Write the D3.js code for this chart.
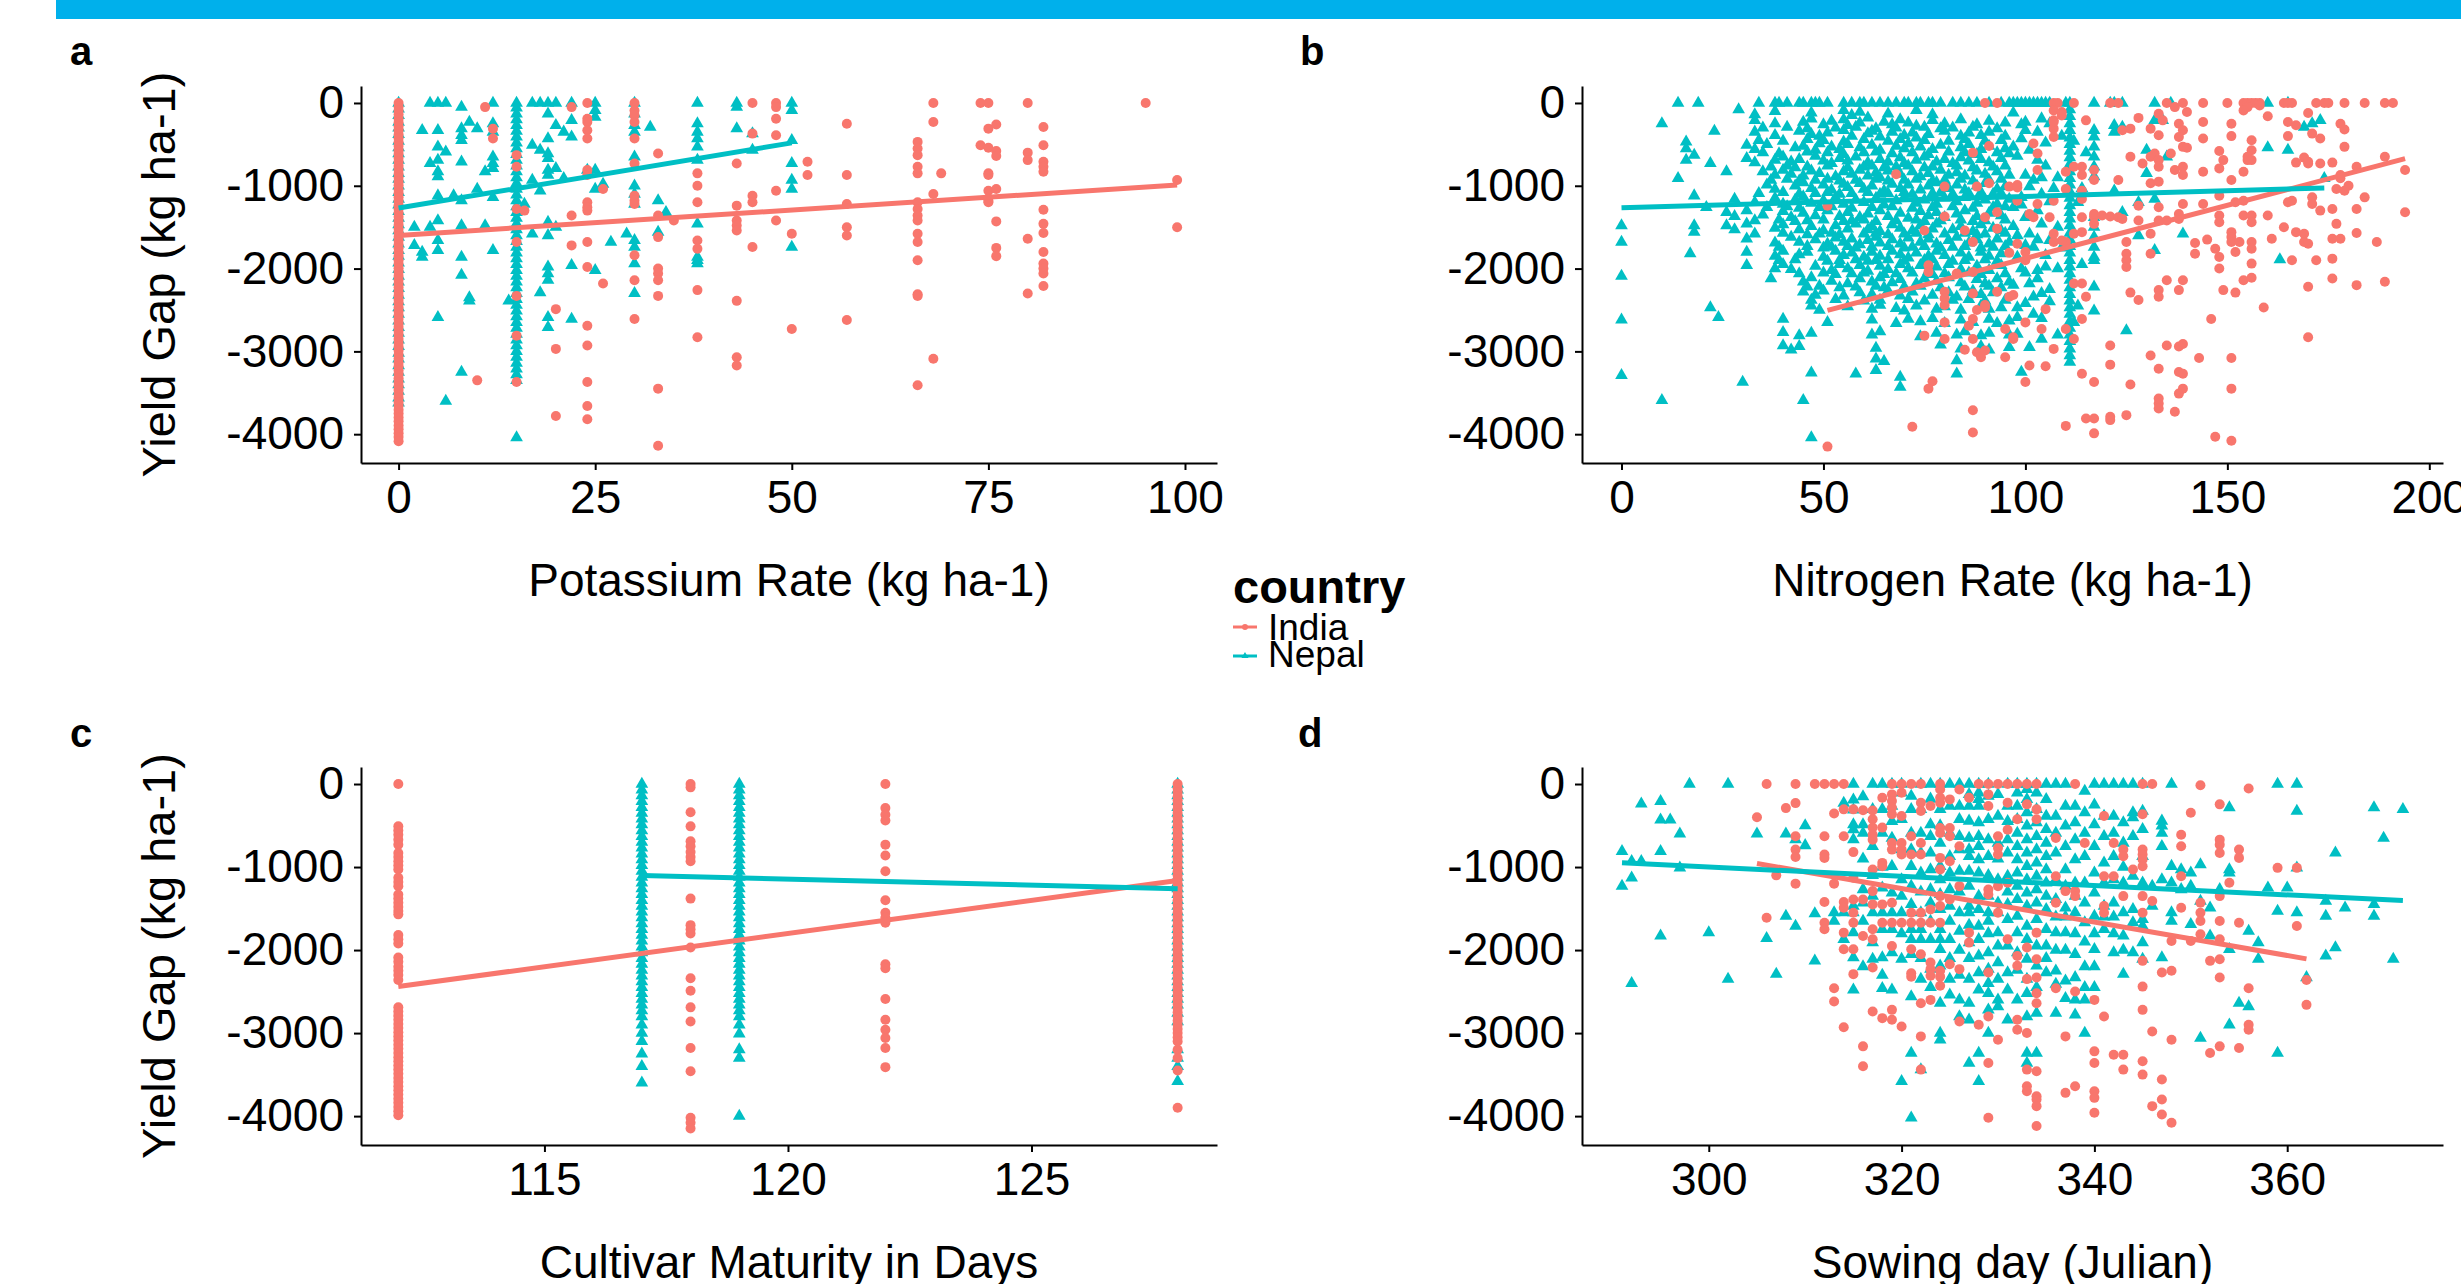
<!DOCTYPE html>
<meta charset="utf-8">
<style>
    body { margin: 0; background: #fff; }
    svg { display: block; background: #fff; }
    .title { font-family: "Liberation Sans", Arial, Helvetica, sans-serif; fill: #000; }
    .tag { font-family: "Liberation Sans", Arial, Helvetica, sans-serif; font-weight: bold; font-size: 40px; }
</style>
<svg width="2461" height="1284"></svg>
<script src="https://d3js.org/d3.v7.min.js"></script>
<script>

    var india = "#F8766D", nepal = "#00BFC4";
    var font = '"Liberation Sans", Arial, Helvetica, sans-serif';

    // ---- values ----

    var yieldTicks = [0, -1000, -2000, -3000, -4000];
    var potassiumTicks = [0, 25, 50, 75, 100];
    var nitrogenTicks = [0, 50, 100, 150, 200];
    var maturityTicks = [115, 120, 125];
    var sowingTicks = [300, 320, 340, 360];

    // a: potassium rate, columns [x, [yield gaps]]
    var potassiumIndia = [
        [0, [0,-45,-95,-140,-190,-235,-285,-330,-380,-425,-475,-520,-570,-615,-665,-710,-760,-805,-855,-900,-950,-995,-1045,-1090,-1140,-1185,-1235,-1280,-1330,-1375,-1425,-1470,-1520,-1565,-1615,-1660,-1710,-1755,-1805,-1850,-1900,-1945,-1995,-2040,-2090,-2135,-2185,-2230,-2280,-2325,-2375,-2420,-2470,-2515,-2565,-2610,-2660,-2705,-2755,-2800,-2850,-2895,-2945,-2990,-3040,-3085,-3135,-3180,-3230,-3275,-3325,-3370,-3420,-3465,-3515,-3560,-3610,-3655,-3705,-3750,-3800,-3845,-3895,-3940,-3990,-4035,-4085]],
        [10, [-3350]], [11, [-50]], [12, [-310,-430]],
        [15, [-630,-770,-1280,-1680,-2330,-2810,-3370]], [16, [-1300]],
        [20, [-2490,-2970,-3780]], [22, [-50,-1360,-1720]],
        [24, [0,-190,-230,-330,-430,-810,-870,-1200,-1260,-1300,-1680,-1980,-2690,-2930,-3370,-3660,-3820]],
        [26, [-1040,-2180]],
        [30, [0,-90,-150,-230,-430,-730,-1120,-1180,-1220,-1840,-2140,-2610]],
        [33, [-610,-1360,-1620,-2000,-2060,-2140,-2330,-3450,-4140]], [35, [-1420]],
        [38, [-850,-1000,-1200,-1660,-1760,-2260,-2830]],
        [43, [-730,-1240,-1420,-1480,-1540,-2390,-3070,-3170]],
        [45, [0,-370,-1120,-1200,-1740]], [48, [0,-50,-190,-390,-1060,-1420]],
        [50, [-1580,-2730]], [52, [-710,-870]],
        [57, [-250,-870,-1220,-1500,-1600,-2620]],
        [66, [-470,-550,-630,-770,-850,-1200,-1280,-1360,-1420,-1580,-1680,-1900,-2310,-2330,-3410]],
        [68, [0,-230,-1100,-3090]], [69, [-850]], [74, [0,-510]],
        [75, [0,-310,-540,-850,-870,-1060,-1180,-1200]],
        [76, [-260,-580,-640,-1040,-1430,-1750,-1850]],
        [80, [0,-600,-690,-1640,-2300]],
        [82, [-290,-510,-710,-770,-830,-1290,-1460,-1570,-1800,-1940,-2000,-2060,-2210]],
        [95, [0]], [99, [-930,-1500]]
    ];
    var potassiumNepal = [
        [0, [0,-70,-150,-230,-300,-380,-460,-540,-610,-690,-770,-850,-920,-1000,-1080,-1160,-1230,-1310,-1390,-1470,-1540,-1620,-1700,-1780,-1850,-1930,-2010,-2090,-2160,-2240,-2320,-2400,-2470,-2550,-2630,-2710,-2780,-2860,-2940,-3020,-3090,-3170,-3250,-3330,-3400,-3480,-3560,-3620]],
        [2, [-1500,-1720]], [3, [-330,-1800,-1860]], [4, [0,-730,-1500]],
        [5, [0,-330,-530,-690,-830,-890,-1120,-1420,-1660,-1780,-2590]],
        [6, [0,-590,-3600]], [7, [-1120]],
        [8, [-50,-310,-390,-450,-710,-1180,-1480,-1860,-2080,-3250]],
        [9, [-230,-2350,-2390]], [10, [-310,-1040]], [11, [-830,-1480]],
        [12, [0,-250,-350,-650,-730,-790,-1140,-1780]], [14, [-2390]],
        [15, [0,-60,-130,-200,-270,-340,-410,-480,-550,-620,-690,-760,-830,-900,-970,-1040,-1110,-1180,-1250,-1320,-1390,-1460,-1530,-1600,-1670,-1740,-1810,-1880,-1950,-2020,-2090,-2160,-2230,-2300,-2370,-2440,-2510,-2580,-2650,-2720,-2790,-2860,-2930,-3000,-3070,-3140,-3210,-3280,-3350,-4040]],
        [16, [-1220]], [17, [0,-510,-930,-1580]], [18, [0,-570,-1060,-2290]],
        [19, [0,-130,-430,-610,-670,-810,-870,-1440,-1600,-1980,-2060,-2140,-2590,-2710]],
        [20, [0,-270,-790,-1500]], [21, [-350,-910]], [22, [0,-210,-410,-1960,-2610]],
        [24, [-810]], [25, [0,-90,-170,-810,-1040,-2020]], [26, [-980]], [27, [-1680]], [29, [-1580]],
        [30, [0,-130,-270,-350,-650,-1000,-1100,-1220,-1660,-1740,-1940,-2300]],
        [32, [-290]], [33, [-1180,-1560]], [34, [-1320]],
        [38, [0,-250,-350,-430,-530,-690,-1460,-1860,-1900,-1940]],
        [43, [0,-50,-310]], [45, [-370,-570]],
        [50, [0,-90,-450,-730,-930,-1040,-1740]]
    ];
    var potassiumFitIndia = [[0, -1600], [99, -990]];
    var potassiumFitNepal = [[0, -1269], [50, -482]];

    // b: nitrogen rate, points [x, yield gap]
    var nitrogenIndia = [
        [90,0],[93,0],[91,-520],[87,-600],[68,-860],[80,-1010],[88,-1010],[91,-970],[96,-1010],[51,-1240],
        [80,-1370],[90,-1380],[93,-1320],[75,-1540],[85,-1540],[93,-1520],[87,-1680],[96,-1810],[76,-1960],[76,-2040],
        [83,-2060],[87,-2040],[80,-2280],[80,-2360],[80,-2440],[87,-2300],[90,-2440],[90,-2470],[93,-2280],[96,-2340],
        [88,-2500],[87,-2610],[86,-2690],[80,-2650],[75,-2810],[80,-2850],[87,-2850],[85,-2980],[88,-3010],[89,-3070],
        [90,-2990],[95,-3070],[97,-2850],[95,-2730],[77,-3360],[76,-3450],[87,-3710],[87,-3980],[72,-3910],[51,-4150],
        [107,0],[108,0],[112,0],[121,0],[123,0],[135,0],[139,0],[144,0],[150,0],[154,0],[155,0],[156,0],[157,0],[158,0],
        [164,0],[165,0],[166,0],[172,0],[174,0],[175,0],[179,0],[184,0],[189,0],[191,0],
        [107,-90],[109,-110],[115,-210],[107,-210],[107,-310],[107,-410],[128,-180],[124,-330],[126,-310],[133,-130],
        [134,-210],[138,-250],[139,-330],[138,-410],[139,-530],[131,-310],[133,-390],[144,-230],[144,-430],[151,-250],
        [151,-400],[156,-450],[156,-570],[155,-690],[154,-830],[160,-160],[165,-230],[167,-270],[165,-400],[170,-120],
        [171,-370],[173,-430],[178,-250],[179,-320],[179,-530],[176,-720],[170,-730],[167,-720],[140,-540],[136,-610],
        [148,-580],[149,-690],[148,-790],[151,-930],[144,-830],[131,-650],[132,-610],[133,-690],[133,-770],[129,-730],
        [126,-650],[139,-770],[139,-870],[137,-810],[131,-970],[133,-950],[123,-930],[114,-770],[114,-870],[112,-770],
        [110,-830],[117,-810],[117,-930],[98,-990],[103,-810],[98,-1180],[107,-1180],[110,-1040],[114,-1060],[103,-1220],
        [114,-1160],[133,-1260],[139,-1220],[144,-1220],[148,-1120],[152,-1200],[154,-1180],[165,-1200],[166,-1180],[171,-1140],
        [171,-1220],[173,-1300],[177,-1040],[180,-1000],[179,-1060],[184,-1140],[182,-1280],[176,-1280],[177,-1460],[182,-1570],
        [189,-650],[194,-810],[194,-1320],[178,-870],[178,-910],[182,-770],[176,-1640],[178,-1640],[187,-1680],[182,-2200],
        [189,-2160],[176,-1880],[176,-2120],[172,-1900],[170,-2220],[170,-2830],[166,-1900],[161,-1640],[164,-1500],[167,-1560],
        [169,-1580],[169,-1680],[170,-1700],[160,-1360],[154,-1360],[156,-1360],[156,-1440],[148,-1360],[148,-1440],[151,-1560],
        [151,-1620],[151,-1680],[153,-1680],[152,-1800],[156,-1680],[156,-1760],[156,-1940],[147,-1760],[148,-1860],[148,-2000],
        [142,-1690],[142,-1820],[145,-1650],[154,-2140],[156,-2110],[149,-2260],[152,-2290],[159,-2470],[146,-2610],[138,-1400],
        [138,-1340],[128,-1420],[133,-1420],[135,-1420],[131,-1580],[131,-1820],[125,-1680],[125,-1820],[125,-1900],[125,-1980],
        [135,-2140],[139,-2140],[138,-2260],[133,-2260],[133,-2340],[126,-2290],[128,-2380],[121,-1370],[123,-1380],[117,-1370],
        [117,-1460],[114,-1380],[112,-1580],[114,-1560],[110,-1680],[109,-1660],[112,-2180],[114,-2180],[115,-2340],[114,-2610],
        [110,-2730],[112,-2850],[107,-2970],[105,-2490],[104,-2730],[100,-2650],[97,-2830],[101,-3170],[105,-3180],[100,-3370],
        [121,-2930],[121,-3160],[131,-3050],[135,-2930],[138,-2940],[139,-2910],[143,-3080],[151,-3080],[151,-3450],[133,-3210],
        [138,-3250],[139,-3270],[114,-3270],[117,-3370],[126,-3400],[138,-3510],[139,-3450],[133,-3570],[133,-3630],[133,-3690],
        [137,-3730],[115,-3810],[117,-3810],[121,-3790],[121,-3830],[125,-3770],[110,-3900],[117,-3990],[147,-4030],[151,-4080],
        [100,-1900],[97,-2320],[103,-610],[102,-490],[107,-230],[109,-150],[117,-1340],[119,-1360],[124,-1400],[128,-1240],
        [155,-650],[156,-690],[158,-30],[155,-50],[154,-90],[140,-110],[137,-50],[169,-660],[170,-710],[173,-730],
        [98,-1020],[101,-1340],[102,-1380],[100,-1800],[98,-1700],[106,-1380],[107,-1580],[107,-1680]
    ];
    var nitrogenNepal = [
        [14,0],[19,0],[34,0],[38,0],[39,0],[41,0],[44,0],[45,0],[47,0],[48,0],[49,0],[51,0],[55,0],[57,0],[59,0],[60,0],
        [62,0],[64,0],[66,0],[68,0],[70,0],[71,0],[73,0],[74,0],[76,0],[77,0],[79,0],[82,0],[84,0],[86,0],[88,0],[91,0],
        [94,0],[96,0],[97,0],[98,0],[99,0],[100,0],[101,0],[102,0],[103,0],[104,0],[105,0],[106,0],[110,0],[117,0],
        [121,0],[122,0],[124,0],[132,0],[136,0],[160,0],[165,0],
        [29,-80],[33,-140],[38,-100],[47,-120],[55,-90],[57,-150],[59,-110],[66,-130],[73,-90],[77,-140],
        [33,-210],[38,-250],[45,-230],[47,-190],[50,-260],[52,-220],[55,-200],[56,-270],[59,-240],[61,-180],[65,-230],
        [67,-260],[69,-200],[71,-240],[73,-280],[77,-210],[80,-250],[84,-200],[88,-260],[91,-220],[95,-240],
        [35,-300],[41,-290],[46,-310],[53,-300],[58,-290],[63,-310],[68,-300],[75,-290],[79,-310],[82,-300],[87,-290],[93,-310],
        [33,-350],[38,-390],[44,-340],[47,-380],[49,-400],[51,-360],[55,-330],[57,-400],[61,-370],[62,-340],[64,-410],
        [67,-350],[70,-390],[72,-360],[73,-420],[76,-380],[80,-340],[84,-400],[86,-360],[89,-390],[91,-350],[95,-400],
        [34,-450],[40,-460],[46,-440],[50,-450],[55,-470],[60,-440],[66,-460],[69,-440],[75,-450],[81,-460],[85,-440],[90,-460],[94,-450],
        [31,-510],[33,-560],[36,-500],[43,-540],[45,-520],[48,-570],[49,-490],[52,-530],[54,-560],[56,-500],[59,-540],
        [62,-510],[64,-570],[68,-520],[70,-550],[71,-490],[74,-530],[77,-560],[79,-510],[84,-540],[86,-500],[89,-560],[91,-520],[95,-550],
        [35,-600],[39,-610],[46,-590],[51,-600],[55,-620],[60,-600],[63,-590],[67,-610],[72,-600],[76,-620],[81,-590],[85,-600],[88,-620],[93,-600],[96,-610],
        [31,-670],[33,-720],[38,-690],[40,-650],[42,-710],[44,-680],[48,-640],[50,-700],[52,-730],[54,-670],[56,-700],
        [58,-650],[61,-720],[64,-680],[66,-710],[69,-660],[70,-730],[73,-690],[75,-650],[78,-710],[80,-680],[82,-730],
        [84,-660],[86,-700],[89,-680],[91,-720],[94,-670],
        [37,-770],[41,-760],[43,-780],[46,-770],[51,-760],[56,-780],[60,-770],[62,-760],[65,-780],[68,-770],[71,-760],[75,-780],[77,-770],[83,-760],[87,-780],[92,-770],[95,-760],
        [35,-830],[38,-870],[40,-810],[42,-860],[45,-880],[47,-820],[49,-850],[53,-890],[55,-830],[57,-860],[59,-810],
        [61,-880],[63,-840],[64,-900],[66,-820],[69,-860],[72,-830],[74,-890],[76,-850],[79,-810],[81,-870],[83,-840],
        [85,-880],[88,-820],[90,-860],[93,-830],[96,-870],
        [37,-930],[41,-920],[44,-940],[48,-930],[51,-920],[54,-940],[58,-930],[63,-920],[66,-940],[70,-930],[73,-920],[77,-940],[80,-930],[84,-920],[87,-940],[91,-930],[94,-920],
        [36,-990],[38,-1040],[43,-1000],[45,-960],[47,-1030],[50,-990],[52,-1050],[55,-980],[56,-1020],[59,-970],[60,-1040],
        [62,-1000],[65,-1060],[67,-980],[69,-1030],[71,-990],[74,-1050],[76,-1000],[78,-960],[81,-1030],[83,-990],[85,-1050],
        [88,-1000],[90,-970],[93,-1040],[95,-1010],
        [34,-1090],[40,-1080],[44,-1100],[48,-1090],[51,-1080],[54,-1100],[57,-1090],[61,-1080],[64,-1100],[66,-1090],[70,-1080],[72,-1100],[77,-1090],[79,-1080],[82,-1100],[86,-1090],[89,-1080],[92,-1100],[94,-1090],
        [28,-1160],[33,-1200],[38,-1150],[40,-1220],[43,-1170],[45,-1130],[47,-1210],[50,-1180],[53,-1140],[55,-1220],[58,-1170],
        [60,-1200],[63,-1150],[65,-1230],[68,-1180],[70,-1140],[73,-1210],[75,-1170],[78,-1220],[80,-1150],[83,-1190],[85,-1140],
        [88,-1210],[90,-1170],[93,-1220],[96,-1160],
        [36,-1260],[41,-1250],[44,-1270],[49,-1260],[52,-1250],[57,-1270],[62,-1260],[67,-1250],[72,-1270],[77,-1260],[82,-1250],[87,-1270],[92,-1260],[95,-1250],
        [26,-1320],[28,-1370],[31,-1300],[35,-1350],[40,-1310],[42,-1380],[45,-1330],[48,-1360],[51,-1300],[54,-1370],[56,-1320],
        [59,-1380],[61,-1340],[64,-1300],[66,-1370],[69,-1330],[71,-1390],[74,-1310],[76,-1360],[78,-1320],[80,-1380],[83,-1340],
        [85,-1300],[88,-1370],[91,-1330],[94,-1360],
        [33,-1420],[39,-1410],[43,-1430],[46,-1420],[50,-1410],[55,-1430],[57,-1420],[60,-1410],[63,-1430],[68,-1420],[73,-1410],[75,-1430],[79,-1420],[84,-1410],[87,-1430],[90,-1420],[95,-1410],
        [26,-1480],[28,-1530],[31,-1460],[38,-1510],[40,-1470],[44,-1530],[47,-1490],[50,-1540],[53,-1480],[56,-1520],[58,-1460],
        [61,-1530],[62,-1490],[64,-1550],[67,-1470],[69,-1510],[72,-1540],[74,-1480],[77,-1520],[78,-1460],[82,-1530],[84,-1490],
        [87,-1550],[89,-1470],[92,-1510],[94,-1540],
        [33,-1580],[40,-1570],[46,-1590],[49,-1580],[52,-1570],[54,-1590],[60,-1580],[63,-1570],[66,-1590],[70,-1580],[73,-1570],[76,-1590],[80,-1580],[85,-1570],[88,-1590],[90,-1580],[95,-1570],
        [31,-1640],[38,-1690],[42,-1620],[44,-1680],[48,-1650],[51,-1700],[53,-1630],[55,-1680],[57,-1640],[59,-1710],[61,-1660],
        [63,-1620],[64,-1690],[67,-1650],[69,-1700],[71,-1630],[74,-1680],[76,-1640],[78,-1700],[81,-1660],[83,-1620],[86,-1690],
        [88,-1650],[91,-1700],[93,-1640],[96,-1680],
        [39,-1740],[46,-1730],[50,-1750],[52,-1740],[56,-1730],[58,-1750],[62,-1740],[66,-1730],[70,-1750],[72,-1740],[75,-1730],[79,-1750],[82,-1740],[85,-1730],[89,-1750],[92,-1740],[95,-1730],
        [31,-1800],[38,-1850],[40,-1790],[44,-1830],[46,-1800],[50,-1860],[53,-1790],[55,-1840],[57,-1810],[60,-1860],[62,-1800],
        [64,-1850],[67,-1790],[69,-1830],[71,-1870],[73,-1810],[76,-1850],[78,-1790],[80,-1840],[84,-1810],[86,-1860],[89,-1800],
        [91,-1850],[94,-1820],
        [39,-1900],[43,-1890],[51,-1910],[54,-1900],[58,-1890],[61,-1910],[63,-1900],[66,-1890],[70,-1910],[75,-1900],[77,-1890],[82,-1910],[85,-1900],[90,-1890],[93,-1910],
        [31,-1960],[38,-2000],[40,-1950],[42,-2010],[48,-1970],[52,-2020],[54,-1950],[56,-2000],[59,-1960],[61,-2030],[64,-1970],
        [66,-2010],[69,-1950],[71,-2000],[74,-1960],[76,-2030],[78,-1980],[81,-1950],[84,-2010],[88,-1970],[91,-2020],[94,-1960],
        [44,-2060],[50,-2050],[53,-2070],[57,-2060],[60,-2050],[65,-2070],[68,-2060],[72,-2050],[77,-2070],[80,-2060],[86,-2050],[89,-2070],[95,-2060],
        [37,-2120],[45,-2160],[47,-2110],[52,-2150],[56,-2180],[59,-2120],[62,-2160],[64,-2110],[67,-2170],[69,-2130],[73,-2180],
        [75,-2120],[78,-2150],[81,-2110],[84,-2170],[88,-2130],[90,-2180],[93,-2120],[96,-2160],
        [46,-2220],[49,-2210],[54,-2230],[58,-2220],[63,-2210],[65,-2230],[70,-2220],[74,-2210],[79,-2230],[85,-2220],[91,-2210],[94,-2230],
        [45,-2280],[48,-2320],[50,-2270],[55,-2330],[59,-2290],[62,-2310],[66,-2270],[69,-2330],[72,-2280],[77,-2320],[81,-2290],
        [83,-2340],[87,-2270],[89,-2310],[92,-2290],
        [47,-2380],[53,-2370],[60,-2390],[64,-2380],[71,-2370],[75,-2390],[82,-2380],[86,-2370],[90,-2390],[95,-2380],
        [47,-2450],[49,-2500],[56,-2460],[62,-2490],[64,-2440],[68,-2480],[70,-2510],[73,-2450],[78,-2490],[80,-2460],[84,-2500],
        [89,-2450],[91,-2490],[94,-2470],
        [40,-2610],[51,-2650],[62,-2620],[68,-2660],[71,-2610],[74,-2640],[77,-2600],[80,-2660],[84,-2620],[87,-2650],[91,-2610],
        [93,-2660],[96,-2630],
        [40,-2770],[44,-2810],[47,-2780],[62,-2800],[64,-2760],[74,-2820],[78,-2780],[83,-2800],[85,-2760],[89,-2810],[91,-2780],[96,-2800],
        [40,-2930],[42,-2980],[44,-2940],[63,-2960],[79,-2920],[84,-2970],[89,-2940],[91,-2980],
        [63,-3090],[65,-3120],[83,-3110],[47,-3260],[58,-3270],[63,-3230],[69,-3310],[83,-3270],[30,-3370],[69,-3430],
        [10,-3590],[45,-3590],[47,-4040],
        [0,-1480],[0,-1680],[0,-2090],[0,-2620],[0,-3290],[10,-250],[14,-910],[16,-470],[16,-550],[16,-690],[17,-1820],
        [18,-630],[18,-1120],[18,-1480],[18,-1560],[21,-1260],[23,-340],[22,-730],[22,-2470],[24,-2590],[26,-830],
        [100,-230],[100,-330],[104,-190],[106,-250],[101,-570],[103,-690],[100,-870],[101,-1010],[97,-1260],[100,-1380],
        [104,-1460],[101,-1580],[106,-1660],[98,-1860],[103,-2020],[101,-2180],[104,-2300],[102,-2340],[98,-2470],[102,-2550],
        [98,-2590],[99,-3250],[97,-530],[99,-1140],[102,-1740],[98,-2790],[102,-930],[105,-1980],[99,-430],[105,-760],
        [97,-1490],[104,-1100],[100,-2050],[106,-2400],
        [97,-120],[99,-260],[103,-350],[105,-480],[98,-640],[104,-900],[107,-1030],[99,-1230],[103,-1300],[106,-1190],
        [98,-1600],[103,-1650],[100,-1720],[105,-1840],[99,-2000],[103,-2120],[97,-2200],[106,-2250],[100,-2420],[104,-2600],
        [108,-1500],[108,-900],[108,-2000],[113,-1200],[114,-1950],[113,-2450],[115,-600],[109,-400],[112,-460],[114,-1030],
        [109,-1750],[112,-2650],[108,-2800],[104,-2850],[101,-2950],[96,-2950],
        [117,-330],[117,-410],[117,-530],[117,-650],[117,-770],[117,-890],[117,-1380],[117,-1500],[117,-1620],[117,-1740],
        [117,-1860],[117,-1900],[117,-2220],[117,-2510],[122,-270],[122,-350],[124,-290],[122,-1060],[124,-1320],[125,-2750],
        [128,-1200],[128,-1600],[130,-570],[130,-850],[132,-210],[134,-210],[135,-650],[132,-1160],[139,-1580],[132,-1780],
        [160,-540],[163,-1890],[165,-570],[169,-290],[171,-250],[173,-210],[174,-910]
    ];
    // the solid column of Nepal farms at 111 kg N
    var nitrogenNepal111 = [0,-80,-160,-250,-330,-420,-500,-580,-660,-740,-830,-910,-990,-1070,-1150,-1240,-1320,-1400,-1480,-1570,-1650,-1730,-1810,-1900,-1980,-2060,-2140,-2230,-2310,-2390,-2470,-2550,-2640,-2720,-2800,-2880,-2970,-3050,-3130];
    var nitrogenFitIndia = [[51, -2505], [194, -673]];
    var nitrogenFitNepal = [[0, -1265], [174, -1027]];

    // c: cultivar maturity, columns [days, [yield gaps]]
    var maturityIndia = [
        [112, [0,-510,-560,-610,-670,-730,-830,-880,-930,-980,-1030,-1130,-1180,-1230,-1330,-1380,-1430,-1480,-1530,-1570,-1820,-1870,-1920,-2090,-2140,-2200,-2250,-2300,-2360,-2690,-2740,-2790,-2840,-2890,-2940,-2990,-3040,-3090,-3140,-3190,-3240,-3290,-3340,-3390,-3440,-3490,-3540,-3590,-3640,-3690,-3740,-3790,-3840,-3890,-3940,-3990]],
        [118, [0,-40,-340,-510,-690,-750,-820,-880,-930,-1380,-1700,-1750,-1800,-1970,-2340,-2490,-2690,-2860,-3180,-3460,-4020,-4080,-4150]],
        [122, [0,-290,-370,-440,-730,-860,-1050,-1400,-1550,-1610,-1670,-2170,-2220,-2590,-2840,-2960,-3060,-3180,-3410]],
        [128, [0,-50,-100,-150,-200,-250,-300,-350,-400,-450,-500,-550,-600,-650,-700,-750,-800,-850,-900,-950,-1000,-1050,-1100,-1150,-1200,-1250,-1300,-1350,-1400,-1450,-1500,-1550,-1600,-1650,-1700,-1750,-1800,-1850,-1900,-1950,-2000,-2050,-2100,-2150,-2200,-2250,-2300,-2350,-2400,-2450,-2500,-2550,-2600,-2650,-2700,-2750,-2800,-2850,-2900,-2950,-3000,-3050,-3100,-3200,-3300,-3450,-3900]]
    ];
    var maturityNepal = [
        [117, [0,-70,-140,-210,-280,-350,-420,-490,-560,-630,-700,-770,-840,-910,-980,-1050,-1120,-1190,-1260,-1330,-1400,-1470,-1540,-1610,-1680,-1750,-1820,-1890,-1960,-2030,-2100,-2170,-2240,-2310,-2380,-2450,-2520,-2590,-2660,-2730,-2800,-2900,-3000,-3100,-3250,-3400,-3600]],
        [119, [0,-70,-140,-210,-280,-350,-420,-490,-560,-630,-700,-770,-840,-910,-980,-1050,-1120,-1190,-1260,-1330,-1400,-1470,-1540,-1610,-1680,-1750,-1820,-1890,-1960,-2030,-2100,-2170,-2240,-2310,-2380,-2450,-2520,-2590,-2660,-2730,-2800,-2900,-3010,-3200,-3300,-4000]],
        [128, [0,-70,-140,-210,-280,-350,-420,-490,-560,-630,-700,-770,-840,-910,-980,-1050,-1120,-1190,-1260,-1330,-1400,-1470,-1540,-1610,-1680,-1750,-1820,-1890,-1960,-2030,-2100,-2170,-2240,-2310,-2380,-2450,-2520,-2590,-2660,-2760,-2860,-3200,-3300,-3400,-3580]]
    ];
    var maturityFitIndia = [[112, -2440], [128, -1162]];
    var maturityFitNepal = [[117, -1103], [128, -1262]];

    // d: sowing day, columns [julian day, [yield gaps]]
    var sowingIndia = [
        [305, [-400]], [306, [0,-1610]], [307, [-1100]], [308, [-290]],
        [309, [0,-230,-630,-790,-880,-1200]], [311, [0]],
        [312, [0,-630,-850,-890,-1420,-1670,-1750]], [313, [0,-355,-1200,-2460,-2620]],
        [314, [0,-305,-630,-1420,-1490,-1790,-1990,-2930]],
        [315, [-305,-820,-1130,-1390,-1550,-1670,-1990,-2290]],
        [316, [-315,-1390,-1830,-3160,-3400]],
        [317, [-320,-425,-525,-610,-670,-1030,-1290,-1450,-1750,-1870,-2210,-2740]],
        [318, [-165,-525,-950,-990,-1450,-1670,-2820]],
        [319, [0,-125,-205,-285,-365,-710,-790,-1430,-1670,-1950,-2720,-2840]],
        [320, [0,-105,-385,-710,-790,-850,-1670,-2920]],
        [321, [0,-630,-850,-1550,-1670,-1990,-2280,-2320]],
        [322, [0,-225,-325,-710,-850,-1550,-1670,-2050,-2640,-3040,-3440]],
        [323, [-265,-1510,-1670,-2150,-2230,-2310,-2600]],
        [324, [0,-65,-165,-225,-530,-590,-890,-1030,-1350,-1470,-1670,-2250,-2320,-2430]],
        [325, [-185,-530,-630,-930,-1390,-2170]], [326, [-65,-750,-1230,-2230,-2860]],
        [327, [-165,-1790,-1910]], [328, [0,-2900]],
        [329, [0,-125,-265,-1270,-1330,-2270,-2800,-3360,-4020]],
        [330, [0,-630,-770,-850,-1230,-1550,-3080]], [331, [0,-225,-550,-1190,-1870]],
        [332, [0,-425,-2070,-2190,-2840,-2960]],
        [333, [0,-245,-1970,-2350,-3000,-3440,-3640,-3700]],
        [334, [0,-305,-425,-1790,-2110,-2330,-2520,-2640,-3460,-3760,-3800,-3880,-4120]],
        [336, [-650,-1110,-1430,-2460]], [337, [-1290,-3040,-3720]],
        [338, [0,-1290,-1350,-2500,-3640]], [339, [-710]],
        [340, [-2600,-3220,-3360,-3700,-3780,-3960]],
        [341, [-385,-1110,-1470,-1550,-2800]], [342, [-710,-1110,-3260]],
        [343, [-790,-870,-1350,-3260,-3440]], [344, [-1030]],
        [345, [0,-365,-790,-850,-910,-990,-1350,-1550,-2130,-2440,-2720,-3340,-3500]],
        [346, [0,-1410,-2980,-3880]], [347, [-2270,-3560,-3800,-3980]],
        [348, [-1890,-2250,-3080,-4080]], [349, [-610,-750,-1110,-1490]],
        [350, [-345,-1890]], [351, [-15,-1430,-1550,-1650,-1810]], [352, [-2130,-3240]],
        [353, [-245,-670,-730,-830,-1350,-1650,-1870,-2110,-2330,-3160]], [354, [-1190]],
        [355, [-790,-890,-1670,-3180]], [356, [-55,-2460,-2900,-2960]],
        [359, [-1010]], [361, [-1010,-1710]], [362, [-2360,-2660]]
    ];
    var sowingNepal = [
        [291, [-810,-1230]], [292, [-930,-1130,-2400]], [293, [-240,-930]],
        [295, [-210,-430,-810,-1830]], [296, [-430]], [297, [-600,-1010]], [298, [0]],
        [300, [-1790]], [302, [0,-2350]], [305, [-600]], [306, [-1860]], [307, [-2290]],
        [308, [-600,-1590]], [309, [-670,-1710]], [310, [-500,-740]], [311, [-1560,-2130]],
        [313, [-1550,-1650]], [314, [-230,-1550,-1870]],
        [315, [0,-190,-310,-490,-550,-670,-1470,-1550,-1790,-2090,-2480]],
        [316, [-150,-490,-590,-900,-1270,-1430,-1650,-2200]],
        [317, [0,-305,-750,-1100,-1350,-1550,-1910,-2110]],
        [318, [0,-305,-590,-1000,-1250,-1550,-1750,-2090,-2300,-2460]],
        [319, [0,-265,-450,-650,-990,-1310,-1550,-1750,-2030,-2480]],
        [320, [0,-105,-425,-790,-1150,-1350,-1550,-1800,-2110,-3580]],
        [321, [-145,-305,-590,-790,-990,-1230,-1450,-1750,-1870,-2050,-2560,-3240,-4020]],
        [322, [0,-305,-590,-830,-1070,-1300,-1550,-1750,-1870,-2100,-2350,-3440]],
        [323, [0,-180,-490,-630,-830,-1030,-1270,-1430,-1650,-1870,-2230,-2450]],
        [324, [0,-305,-500,-710,-990,-1150,-1330,-1510,-1750,-1870,-1990,-2190,-2640,-3000,-3080]],
        [325, [0,-265,-590,-870,-1070,-1270,-1470,-1650,-1870,-2100,-2350,-2540]],
        [326, [0,-265,-425,-630,-790,-1050,-1300,-1550,-1770,-2000,-2300,-2600,-2800]],
        [327, [0,-125,-265,-445,-650,-790,-870,-1050,-1230,-1470,-1550,-1700,-1910,-2100,-2350,-2640,-2840,-3360]],
        [328, [0,-105,-185,-265,-465,-630,-750,-910,-1070,-1350,-1510,-1710,-1870,-2070,-2270,-2480,-3240,-3580]],
        [329, [0,-145,-425,-670,-870,-1100,-1350,-1550,-1650,-1800,-2030,-2230,-2400,-2520,-2720,-3000]],
        [330, [-125,-385,-710,-900,-1150,-1430,-1550,-1790,-1950,-2150,-2350,-2600,-2680]],
        [331, [0,-265,-450,-670,-830,-1110,-1300,-1450,-1630,-1950,-2270,-2480,-2840]],
        [332, [0,-105,-265,-425,-590,-750,-910,-1070,-1230,-1390,-1590,-1790,-2030,-2240,-2600]],
        [333, [0,-65,-185,-345,-505,-670,-830,-990,-1150,-1310,-1470,-1710,-1870,-2110,-2350,-2520,-2800,-3240,-3360]],
        [334, [0,-105,-305,-465,-630,-790,-950,-1110,-1270,-1430,-1630,-1950,-2190,-2450,-2760,-3240]],
        [335, [0,-185,-385,-545,-710,-870,-1030,-1190,-1350,-1510,-1750,-1950,-2100,-2270]],
        [336, [0,-385,-590,-830,-1150,-1390,-1600,-1790,-2000,-2250,-2410,-2760]],
        [337, [0,-265,-505,-750,-1030,-1230,-1490,-1600,-1790,-2000,-2370,-2580]],
        [338, [-265,-465,-670,-910,-1190,-1350,-1550,-1800,-2050,-2330,-2600,-2780]],
        [339, [-85,-345,-590,-870,-1190,-1430,-1670,-1900,-2200,-2450,-2600,-3000]],
        [340, [0,-250,-490,-750,-1070,-1310,-1590,-1800,-1990,-2200,-2450]],
        [341, [0,-385,-630,-950,-1190,-1470,-1600,-1750]],
        [342, [0,-385,-590,-870,-1150,-1430,-1600,-1800,-2030]],
        [343, [0,-465,-710,-1000,-1190,-1550,-1830,-2000,-2290]],
        [344, [0,-345,-405,-630,-1110,-1510,-1670,-2030]],
        [345, [0,-325,-545,-870,-1190,-1630,-1710,-1910,-2110]],
        [346, [-1230,-1470]], [347, [-445,-505,-590,-750,-1150,-2090]],
        [348, [0,-990,-1190,-1550,-1650]], [349, [-1030,-1270]], [350, [-1070,-1230,-1690]],
        [351, [-970,-1410,-3060]], [352, [-1490,-1830]], [353, [-1270]],
        [354, [-285,-1030,-1070,-1990,-2900]], [355, [-2640]], [356, [-1770,-2680]],
        [357, [-1910,-2110]], [358, [-1250]], [359, [0,-1530,-3240]], [360, [-1250]],
        [361, [0,-325,-1010,-1550]], [362, [-2330]], [364, [-1410,-1590,-2070]],
        [365, [-830,-1970]], [366, [-1490]], [369, [-285,-1450,-1590]], [370, [-650]],
        [371, [-2110]], [372, [-305]]
    ];
    var sowingFitIndia = [[305, -957], [362, -2106]];
    var sowingFitNepal = [[291, -949], [372, -1403]];

    // ---- drawing ----

    var svg = d3.select("svg");

    svg.append("rect").attr("x", 56).attr("y", 0).attr("width", 2405).attr("height", 19).attr("fill", "#00b0eb");

    function columns(cols) {
        var out = [];
        cols.forEach(function(c) { c[1].forEach(function(v) { out.push([c[0], v]); }); });
        return out;
    }

    var yDomain = [-4348, 205];
    var triangle = d3.symbol(d3.symbolTriangle, 70)();

    function drawPanel(p) {
        var x = d3.scaleLinear().domain(p.xDomain).range([p.left, p.right]);
        var y = d3.scaleLinear().domain(yDomain).range([p.bottom, p.top]);
        var g = svg.append("g");

        g.append("g").selectAll("path").data(p.nepal).enter().append("path")
            .attr("d", triangle)
            .attr("transform", function(d) { return "translate(" + x(d[0]) + "," + y(d[1]) + ")"; })
            .attr("fill", nepal);

        g.append("g").selectAll("circle").data(p.india).enter().append("circle")
            .attr("cx", function(d) { return x(d[0]); })
            .attr("cy", function(d) { return y(d[1]); })
            .attr("r", 5)
            .attr("fill", india);

        var line = d3.line().x(function(d) { return x(d[0]); }).y(function(d) { return y(d[1]); });
        g.append("path").datum(p.fitIndia).attr("d", line)
            .attr("fill", "none").attr("stroke", india).attr("stroke-width", 5);
        g.append("path").datum(p.fitNepal).attr("d", line)
            .attr("fill", "none").attr("stroke", nepal).attr("stroke-width", 5);

        var ax = g.append("g").attr("transform", "translate(0," + p.bottom + ")")
            .call(d3.axisBottom(x).tickValues(p.xTicks).tickSize(7).tickSizeOuter(0).tickPadding(10));
        var ay = g.append("g").attr("transform", "translate(" + p.left + ",0)")
            .call(d3.axisLeft(y).tickValues(yieldTicks).tickSize(7).tickSizeOuter(0).tickPadding(10)
                .tickFormat(function(d) { return d === 0 ? "0" : "-" + Math.abs(d); }));
        [ax, ay].forEach(function(a) {
            a.attr("font-size", 46).attr("font-family", font);
            a.select(".domain").attr("stroke", "#000").attr("stroke-width", 2);
            a.selectAll(".tick line").attr("stroke", "#000").attr("stroke-width", 2);
            a.selectAll(".tick text").attr("fill", "#000");
        });

        g.append("text").attr("class", "title")
            .attr("x", (p.left + p.right) / 2).attr("y", p.bottom + 133)
            .attr("text-anchor", "middle").style("font-size", "46px")
            .text(p.xTitle);

        if (p.yTitle) {
            g.append("text").attr("class", "title")
                .attr("transform", "translate(175," + (p.top + p.bottom) / 2 + ") rotate(-90)")
                .attr("text-anchor", "middle").style("font-size", "47px")
                .text(p.yTitle);
        }

        g.append("text").attr("class", "tag").attr("x", p.tagX).attr("y", p.tagY).text(p.tag);
    }

    drawPanel({
        tag: "a", tagX: 70, tagY: 65,
        left: 361, right: 1217, top: 86, bottom: 463, xDomain: [-4.78, 104.07],
        xTicks: potassiumTicks, xTitle: "Potassium Rate (kg ha-1)", yTitle: "Yield Gap (kg ha-1)",
        india: columns(potassiumIndia), nepal: columns(potassiumNepal),
        fitIndia: potassiumFitIndia, fitNepal: potassiumFitNepal
    });
    drawPanel({
        tag: "b", tagX: 1300, tagY: 65,
        left: 1582, right: 2443, top: 86, bottom: 463, xDomain: [-9.78, 203.39],
        xTicks: nitrogenTicks, xTitle: "Nitrogen Rate (kg ha-1)",
        india: nitrogenIndia, nepal: nitrogenNepal.concat(columns([[111, nitrogenNepal111]])),
        fitIndia: nitrogenFitIndia, fitNepal: nitrogenFitNepal
    });
    drawPanel({
        tag: "c", tagX: 70, tagY: 747,
        left: 361, right: 1217, top: 767, bottom: 1145, xDomain: [111.234, 128.808],
        xTicks: maturityTicks, xTitle: "Cultivar Maturity in Days", yTitle: "Yield Gap (kg ha-1)",
        india: columns(maturityIndia), nepal: columns(maturityNepal),
        fitIndia: maturityFitIndia, fitNepal: maturityFitNepal
    });
    drawPanel({
        tag: "d", tagX: 1298, tagY: 747,
        left: 1582, right: 2443, top: 767, bottom: 1145, xDomain: [286.85, 376.16],
        xTicks: sowingTicks, xTitle: "Sowing day (Julian)",
        india: columns(sowingIndia), nepal: columns(sowingNepal),
        fitIndia: sowingFitIndia, fitNepal: sowingFitNepal
    });

    // legend
    var legend = svg.append("g");
    legend.append("text").attr("class", "title").attr("x", 1233).attr("y", 603)
        .style("font-size", "47px").style("font-weight", "bold").text("country");
    [["India", india, 627, 640], ["Nepal", nepal, 656, 667]].forEach(function(k) {
        legend.append("line").attr("x1", 1233).attr("x2", 1257).attr("y1", k[2]).attr("y2", k[2])
            .attr("stroke", k[1]).attr("stroke-width", 3);
        if (k[0] === "India") {
            legend.append("circle").attr("cx", 1245).attr("cy", k[2]).attr("r", 3).attr("fill", k[1]);
        } else {
            legend.append("path").attr("d", d3.symbol(d3.symbolTriangle, 22)())
                .attr("transform", "translate(1245," + k[2] + ")").attr("fill", k[1]);
        }
        legend.append("text").attr("class", "title").attr("x", 1268).attr("y", k[3])
            .style("font-size", "37px").text(k[0]);
    });

</script>
